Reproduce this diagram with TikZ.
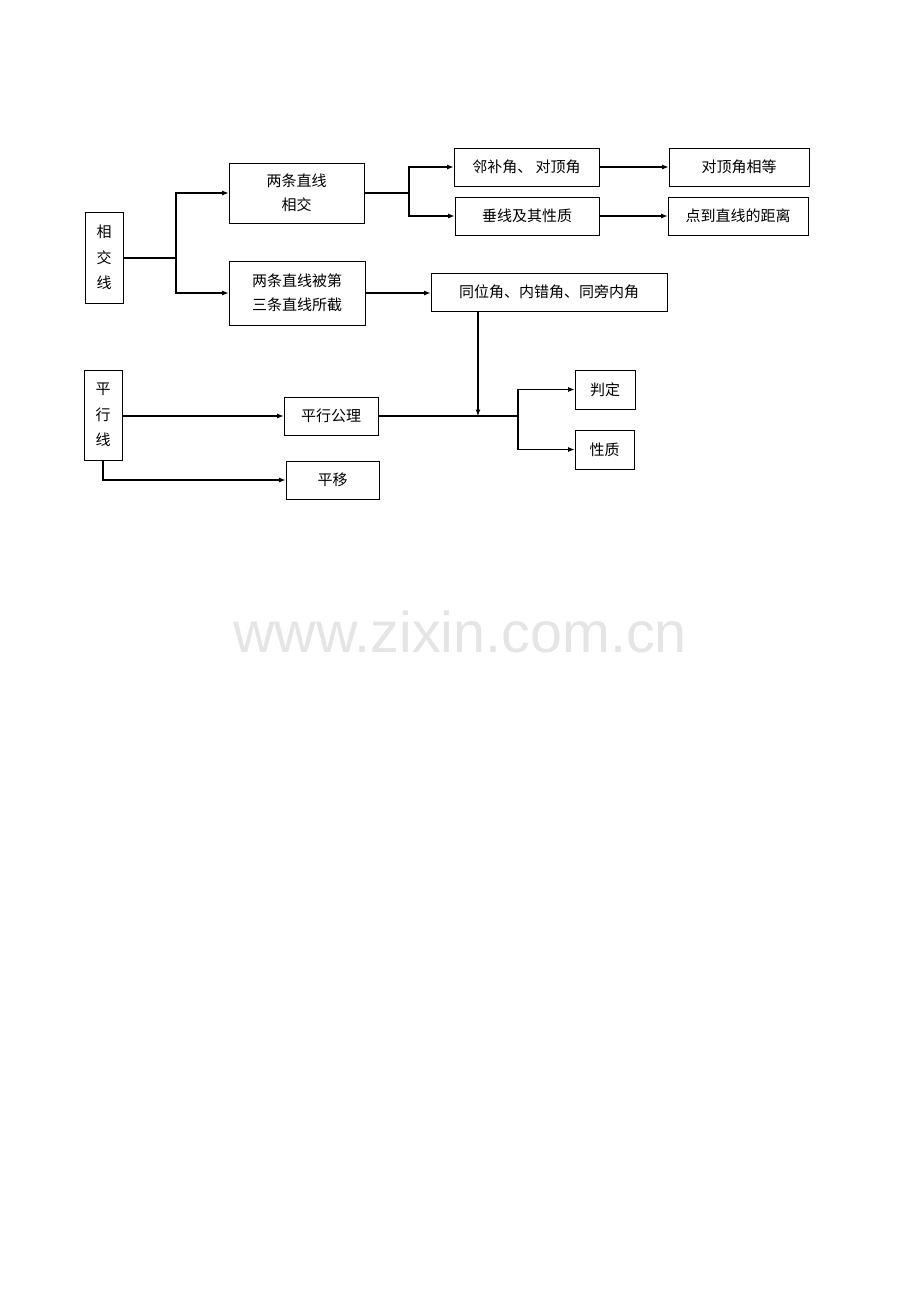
\documentclass[tikz,border=0pt]{standalone}
\usepackage{fontspec}
\newfontfamily\cjk{Noto Sans CJK SC}
\setsansfont{Liberation Sans}
\usetikzlibrary{arrows.meta}
\begin{document}
\begin{tikzpicture}[x=1pt,y=-1pt,
  box/.style={draw, line width=0.8pt, rectangle, inner sep=0pt, align=center,
    font=\cjk\fontsize{15}{24}\selectfont},
  conn/.style={line width=1.1pt},
  arr/.style={line width=1.1pt, -{Latex[length=6.5pt,width=5pt]}}]
\useasboundingbox (0,0) rectangle (920,1302);
% nodes
\node[box, minimum width=38pt, minimum height=91pt, font=\cjk\fontsize{15}{25.5}\selectfont] (xjx) at (104,257.5) {相\\交\\线};
\node[box, minimum width=135pt, minimum height=60pt] (lt1) at (296.5,193) {两条直线\\相交};
\node[box, minimum width=136pt, minimum height=64pt] (lt2) at (297,293) {两条直线被第\\三条直线所截};
\node[box, minimum width=145pt, minimum height=38pt] (lbj) at (526.5,167) {邻补角、 对顶角};
\node[box, minimum width=144pt, minimum height=38pt] (cx) at (527,216) {垂线及其性质};
\node[box, minimum width=140pt, minimum height=38pt] (dd) at (739,167) {对顶角相等};
\node[box, minimum width=140pt, minimum height=38pt] (jl) at (738,216) {点到直线的距离};
\node[box, minimum width=236pt, minimum height=38pt] (tw) at (549,292) {同位角、内错角、同旁内角};
\node[box, minimum width=38pt, minimum height=90pt, font=\cjk\fontsize{15}{25.5}\selectfont] (pxx) at (103,415) {平\\行\\线};
\node[box, minimum width=94pt, minimum height=38pt] (gl) at (331,416) {平行公理};
\node[box, minimum width=93pt, minimum height=38pt] (py) at (332.5,480) {平移};
\node[box, minimum width=60pt, minimum height=39pt] (pd) at (605,389.5) {判定};
\node[box, minimum width=59pt, minimum height=39pt] (xz) at (604.5,449.5) {性质};
% watermark
\node[font=\sffamily\fontsize{57.5}{60}\selectfont, text=black!10, anchor=base] (wm) at (460,652) {www.zixin.com.cn};
% fork points
\coordinate (f1) at (176,257.5);
\coordinate (f2) at (409,193);
\coordinate (f3) at (518,416);
\coordinate (j) at (478,416);
% connectors
\draw[line width=2pt] (xjx.east) -- (f1);
\draw[arr] (f1) |- (lt1.west);
\draw[arr] (f1) |- (lt2.west);
\draw[line width=1.6pt] (lt1.east) -- (f2);
\draw[arr] (f2) |- (lbj.west);
\draw[arr] (f2) |- (cx.west);
\draw[arr] (lbj.east) -- (dd.west);
\draw[arr] (cx.east) -- (jl.west);
\draw[arr] (lt2.east) -- (tw.west |- lt2.east);
\draw[arr] (tw.south -| j) -- (j);
\draw[arr] (pxx.east |- gl.west) -- (gl.west);
\draw[arr] (pxx.south) |- (py.west);
\draw[conn] (gl.east) -- (f3);
\draw[arr] (f3) |- (pd.west);
\draw[arr] (f3) |- (xz.west);
\end{tikzpicture}
\end{document}
